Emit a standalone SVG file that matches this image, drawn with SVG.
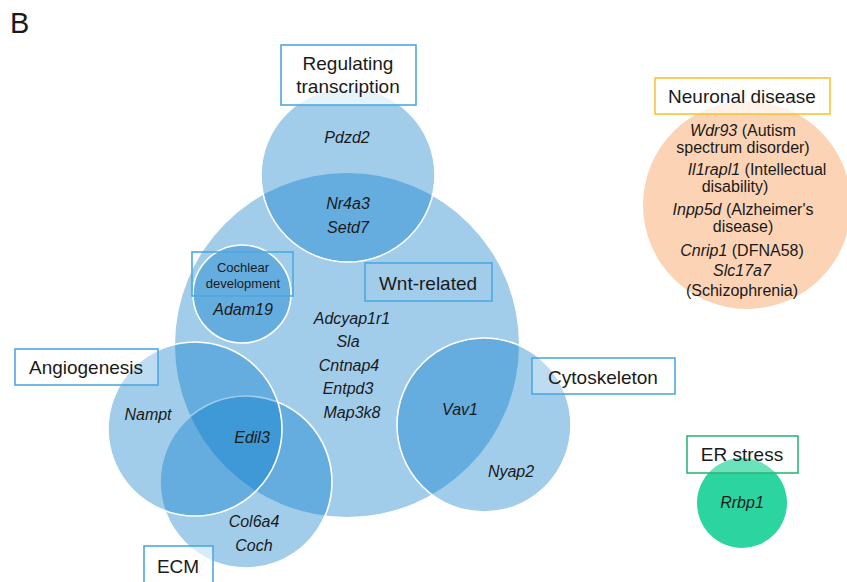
<svg xmlns="http://www.w3.org/2000/svg" width="847" height="582" viewBox="0 0 847 582">
<style>
text{font-family:"Liberation Sans",Arial,sans-serif;fill:#1a1a1a}
.lbl{font-size:19px;text-anchor:middle}
.g{font-size:16px;font-style:italic;text-anchor:middle}
.n{font-size:16px;text-anchor:middle}
.i{font-style:italic}
.sm{font-size:13px;text-anchor:middle}
.bc{fill:#0078C9;fill-opacity:0.37;stroke:#fff;stroke-width:1.6}
.bx{fill:#fff;fill-opacity:0;stroke:#4BA9E2;stroke-width:1.6}
</style>
<rect width="847" height="582" fill="#fff"/>
<text x="10" y="33" style="font-size:29px">B</text>
<g id="wnt">
<circle cx="347" cy="345" r="172" fill="#0078C9" fill-opacity="0.37"/>
</g>
<g id="transcription">
<circle class="bc" cx="348" cy="175" r="87"/>
</g>
<g id="cochlear">
<circle class="bc" cx="242" cy="294" r="49"/>
</g>
<g id="ecm">
<circle class="bc" cx="246" cy="482" r="86"/>
</g>
<g id="angiogenesis">
<circle class="bc" cx="195" cy="429" r="87"/>
</g>
<g id="cytoskeleton">
<circle class="bc" cx="484" cy="425" r="87"/>
</g>
<g id="neuronal">
<circle cx="747" cy="205" r="104" fill="#FCD3B4"/>
</g>
<g id="er">
<circle cx="742" cy="503" r="45" fill="#2CD49F"/>
</g>
<g id="connectors"></g>
<g id="labels">
<rect class="bx" x="281" y="45" width="135" height="60" style="fill-opacity:0.75"/>
<text class="lbl" x="348" y="70">Regulating</text>
<text class="lbl" x="348" y="93">transcription</text>
<rect class="bx" x="192" y="252" width="101" height="44"/>
<text class="sm" x="243" y="272">Cochlear</text>
<text class="sm" x="243" y="288">development</text>
<rect class="bx" x="365" y="263" width="127" height="38"/>
<text class="lbl" x="428" y="290">Wnt-related</text>
<rect class="bx" x="15" y="349" width="143" height="36" style="fill-opacity:0.3"/>
<text class="lbl" x="86" y="374">Angiogenesis</text>
<rect class="bx" x="144" y="546" width="69" height="42" style="fill-opacity:0.6"/>
<text class="lbl" x="178" y="573">ECM</text>
<rect class="bx" x="532" y="358" width="143" height="36" style="fill-opacity:0.3"/>
<text class="lbl" x="603" y="384">Cytoskeleton</text>
<rect x="655" y="78" width="175" height="36" fill="#fff" fill-opacity="0.7" stroke="#F7C531" stroke-width="1.6"/>
<text class="lbl" x="742" y="103">Neuronal disease</text>
<rect x="687" y="436" width="111" height="37" fill="#fff" fill-opacity="0.3" stroke="#2DB679" stroke-width="1.6"/>
<text class="lbl" x="742" y="461">ER stress</text>
</g>
<g id="genes">
<text class="g" x="347" y="143">Pdzd2</text>
<text class="g" x="348" y="209">Nr4a3</text>
<text class="g" x="348" y="233">Setd7</text>
<text class="g" x="243" y="315">Adam19</text>
<text class="g" x="352" y="324">Adcyap1r1</text>
<text class="g" x="348" y="347">Sla</text>
<text class="g" x="349" y="371">Cntnap4</text>
<text class="g" x="348" y="394">Entpd3</text>
<text class="g" x="352" y="418">Map3k8</text>
<text class="g" x="148" y="420">Nampt</text>
<text class="g" x="252" y="443">Edil3</text>
<text class="g" x="254" y="527">Col6a4</text>
<text class="g" x="254" y="551">Coch</text>
<text class="g" x="460" y="415">Vav1</text>
<text class="g" x="511" y="477">Nyap2</text>
<text class="g" x="742" y="508">Rrbp1</text>
<text class="n" x="743" y="136"><tspan class="i">Wdr93</tspan> (Autism</text>
<text class="n" x="743" y="153">spectrum disorder)</text>
<text class="n" x="757" y="175"><tspan class="i">Il1rapl1</tspan> (Intellectual</text>
<text class="n" x="735" y="192">disability)</text>
<text class="n" x="743" y="215"><tspan class="i">Inpp5d</tspan> (Alzheimer's</text>
<text class="n" x="743" y="232">disease)</text>
<text class="n" x="742" y="256"><tspan class="i">Cnrip1</tspan> (DFNA58)</text>
<text class="n i" x="742" y="276">Slc17a7</text>
<text class="n" x="742" y="296">(Schizophrenia)</text>
</g>
</svg>
